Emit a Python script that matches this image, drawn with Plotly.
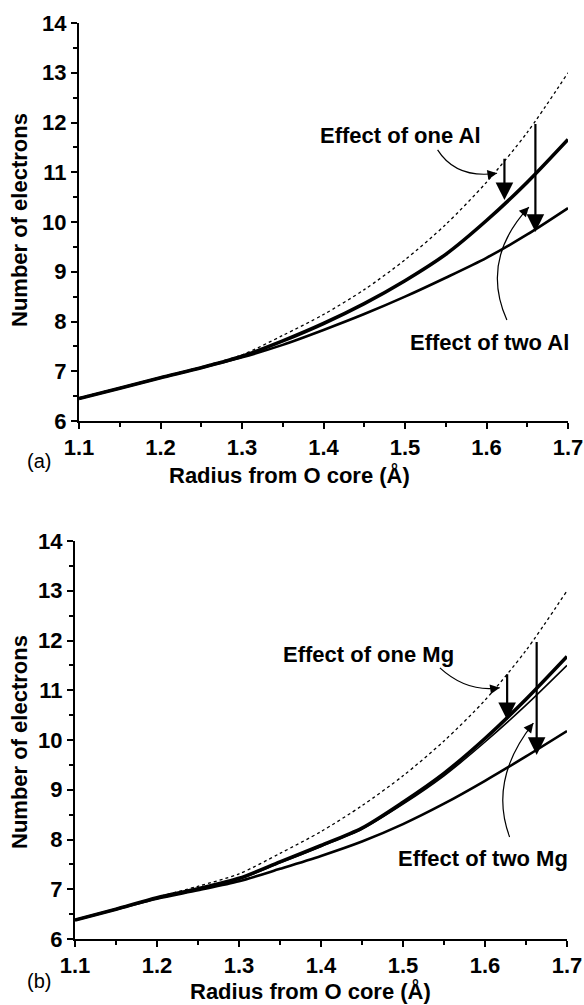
import plotly.graph_objects as go

# ---- data ----
radius = [1.10, 1.15, 1.20, 1.25, 1.30, 1.35, 1.40, 1.45, 1.50, 1.55, 1.60, 1.65, 1.70]

# panel (a)
a_ref = [6.47, 6.67, 6.88, 7.09, 7.33, 7.72, 8.14, 8.64, 9.24, 9.95, 10.80, 11.80, 13.00]
a_one_al = [6.45, 6.66, 6.87, 7.07, 7.30, 7.61, 7.96, 8.36, 8.82, 9.35, 10.03, 10.80, 11.66]
a_two_al = [6.45, 6.66, 6.87, 7.07, 7.28, 7.53, 7.83, 8.15, 8.50, 8.88, 9.28, 9.75, 10.28]

# panel (b)
b_ref = [6.38, 6.60, 6.84, 7.06, 7.31, 7.72, 8.16, 8.68, 9.28, 9.98, 10.80, 11.80, 13.00]
b_one_mg_a = [6.38, 6.60, 6.83, 7.01, 7.22, 7.55, 7.88, 8.23, 8.75, 9.33, 10.03, 10.82, 11.68]
b_one_mg_b = [6.38, 6.60, 6.83, 7.00, 7.20, 7.53, 7.86, 8.21, 8.71, 9.28, 9.96, 10.70, 11.50]
b_two_mg = [6.38, 6.60, 6.81, 6.98, 7.16, 7.41, 7.67, 7.96, 8.31, 8.72, 9.18, 9.67, 10.18]

x_range = [1.1, 1.7]
y_range = [6, 14]

FONT = "Liberation Sans, Arial, sans-serif"

fig = go.Figure()

def add_panel(xa, ya, ref, one, two, extra=None):
    fig.add_trace(go.Scatter(x=radius, y=ref, mode="lines", xaxis=xa, yaxis=ya,
                             line=dict(color="black", width=1.3, dash="dot", shape="spline", smoothing=0.8),
                             showlegend=False))
    fig.add_trace(go.Scatter(x=radius, y=two, mode="lines", xaxis=xa, yaxis=ya,
                             line=dict(color="black", width=2.6, shape="spline", smoothing=0.8),
                             showlegend=False))
    fig.add_trace(go.Scatter(x=radius, y=one, mode="lines", xaxis=xa, yaxis=ya,
                             line=dict(color="black", width=3.6, shape="spline", smoothing=0.8),
                             showlegend=False))
    if extra is not None:
        fig.add_trace(go.Scatter(x=radius, y=extra, mode="lines", xaxis=xa, yaxis=ya,
                                 line=dict(color="black", width=1.6, shape="spline", smoothing=0.8),
                                 showlegend=False))

add_panel("x", "y", a_ref, a_one_al, a_two_al)
add_panel("x2", "y2", b_ref, b_one_mg_a, b_two_mg, b_one_mg_b)

axis_common = dict(
    showline=True, linecolor="black", linewidth=2, mirror=False,
    showgrid=False, zeroline=False, automargin=False,
    ticks="outside", ticklen=6, tickwidth=2, tickcolor="black",
    tickfont=dict(family=FONT, size=22, color="black", weight="bold"),
)
minor_x = dict(dtick=0.05, ticks="outside", ticklen=4, tickwidth=1.5, tickcolor="black")
minor_y = dict(dtick=0.5, ticks="outside", ticklen=4, tickwidth=1.5, tickcolor="black")

fig.update_layout(
    width=584, height=1005,
    margin=dict(l=0, r=0, t=0, b=0),
    paper_bgcolor="white", plot_bgcolor="white",
    xaxis=dict(domain=[79/584, 568/584], anchor="y", range=x_range, tick0=1.1, dtick=0.1,
               tickformat=".1f", minor=minor_x, **axis_common),
    yaxis=dict(domain=[1-421/1005, 1-23/1005], anchor="x", range=y_range, dtick=1,
               minor=minor_y, **axis_common),
    xaxis2=dict(domain=[75/584, 567/584], anchor="y2", range=x_range, tick0=1.1, dtick=0.1,
                tickformat=".1f", minor=minor_x, **axis_common),
    yaxis2=dict(domain=[1-939/1005, 1-541/1005], anchor="x2", range=y_range, dtick=1,
                minor=minor_y, **axis_common),
)

ann = []
shapes = []
tfont = dict(family=FONT, size=22, color="black", weight="bold")

# axis titles
for yc, xc_title, yt in [(1-220/1005, 289/584, 1-475/1005), (1-742/1005, 310/584, 1-991/1005)]:
    ann.append(dict(text="Number of electrons", xref="paper", yref="paper", x=19/584, y=yc,
                    textangle=-90, showarrow=False, font=tfont, xanchor="center", yanchor="middle"))
    ann.append(dict(text="Radius from O core (Å)", xref="paper", yref="paper", x=xc_title, y=yt,
                    showarrow=False, font=tfont, xanchor="center", yanchor="middle"))

ann.append(dict(text="(a)", xref="paper", yref="paper", x=25/584, y=1-461/1005, showarrow=False,
                font=dict(family=FONT, size=20, color="black")))
ann.append(dict(text="(b)", xref="paper", yref="paper", x=25/584, y=1-994/1005, showarrow=False,
                font=dict(family=FONT, size=20, color="black")))

def label(xr, yr, text, x, y):
    ann.append(dict(text=text, xref=xr, yref=yr, x=x, y=y, showarrow=False, font=tfont,
                    xanchor="center", yanchor="middle"))

def varrow(xr, yr, x, y0, y1):
    ann.append(dict(text="", xref=xr, yref=yr, axref=xr, ayref=yr, x=x, y=y1, ax=x, ay=y0,
                    showarrow=True, arrowhead=2, arrowsize=1.6, arrowwidth=2.2, arrowcolor="black",
                    standoff=0, startstandoff=0))

def curved(xr, yr, p0, c, p2):
    shapes.append(dict(type="path", xref=xr, yref=yr,
                       path=f"M {p0[0]},{p0[1]} Q {c[0]},{c[1]} {p2[0]},{p2[1]}",
                       line=dict(color="black", width=1.2)))
    dx = p2[0] - c[0]
    dy = p2[1] - c[1]
    ann.append(dict(text="", xref=xr, yref=yr, axref=xr, ayref=yr, x=p2[0], y=p2[1],
                    ax=p2[0] - 0.15 * dx, ay=p2[1] - 0.15 * dy,
                    showarrow=True, arrowhead=2, arrowsize=1.6, arrowwidth=1.2, arrowcolor="black",
                    standoff=0))

# panel (a) annotations
label("x", "y", "Effect of one Al", 1.495, 11.74)
curved("x", "y", (1.540, 11.45), (1.563, 10.86), (1.613, 10.98))
varrow("x", "y", 1.622, 11.30, 10.44)
varrow("x", "y", 1.660, 12.00, 9.80)
label("x", "y", "Effect of two Al", 1.604, 7.58)
curved("x", "y", (1.625, 8.03), (1.592, 9.24), (1.652, 10.30))

# panel (b) annotations
label("x2", "y2", "Effect of one Mg", 1.458, 11.71)
curved("x2", "y2", (1.545, 11.45), (1.578, 10.95), (1.618, 11.05))
varrow("x2", "y2", 1.627, 11.35, 10.40)
varrow("x2", "y2", 1.663, 12.00, 9.70)
label("x2", "y2", "Effect of two Mg", 1.597, 7.61)
curved("x2", "y2", (1.630, 8.05), (1.604, 9.20), (1.659, 10.34))

fig.update_layout(annotations=ann, shapes=shapes)

fig.write_html(
    "out.html",
    config={"displayModeBar": False},
    post_script="document.body.style.margin='0';document.documentElement.style.overflow='hidden';",
)
